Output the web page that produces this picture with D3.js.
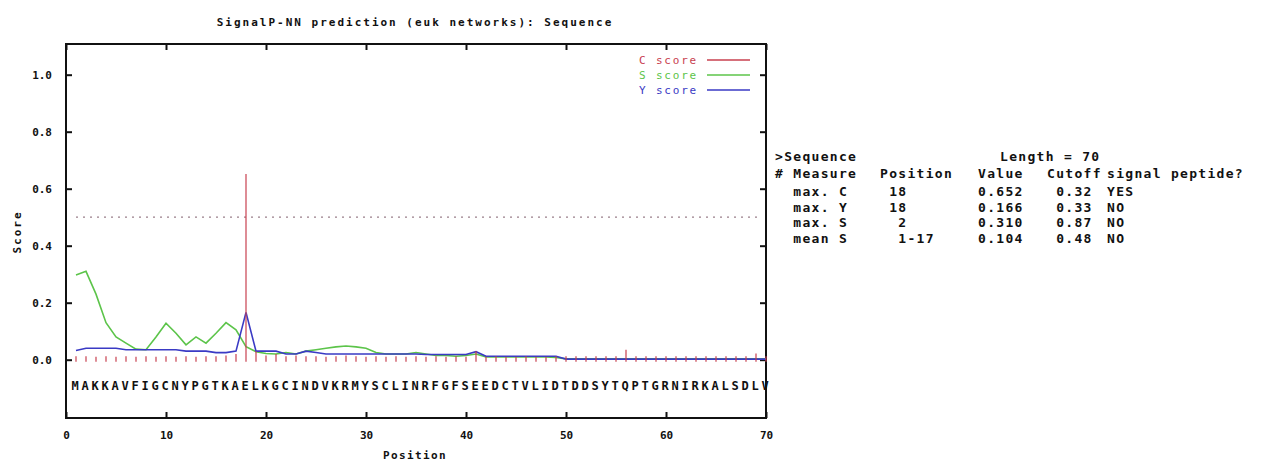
<!DOCTYPE html>
<html>
<head>
<meta charset="utf-8">
<script src="https://cdn.jsdelivr.net/npm/d3@7"></script>
<style>
  body { margin: 0; background: #fff; }
  text { font-family: "DejaVu Sans Mono", monospace; font-weight: bold; fill: #111; }
  .seq { font-size: 12px; }
  .tab { font-size: 13px; letter-spacing: 1.3px; }
</style>
</head>
<body>
<div class="chart"></div>
<script>
// SignalP-NN style score plot with the summary table on the right

// sequence, one letter per position
var sequence = "MAKKAVFIGCNYPGTKAELKGCINDVKRMYSCLINRFGFSEEDCTVLIDTDDSYTQPTGRNIRKALSDLV".split("");

// C score (impulses)
var cScore = [0.012, 0.012, 0.010, 0.012, 0.010, 0.012, 0.010, 0.012, 0.010, 0.012,
              0.010, 0.012, 0.010, 0.012, 0.012, 0.015, 0.020, 0.652, 0.030, 0.015,
              0.020, 0.012, 0.015, 0.012, 0.012, 0.010, 0.012, 0.015, 0.012, 0.010,
              0.012, 0.010, 0.012, 0.010, 0.012, 0.010, 0.012, 0.010, 0.012, 0.010,
              0.030, 0.010, 0.012, 0.010, 0.010, 0.012, 0.010, 0.010, 0.012, 0.012,
              0.012, 0.012, 0.012, 0.012, 0.012, 0.035, 0.012, 0.012, 0.012, 0.012,
              0.012, 0.012, 0.012, 0.012, 0.012, 0.012, 0.012, 0.012, 0.022, 0.012];

// S score
var sScore = [0.297, 0.310, 0.230, 0.130, 0.080, 0.058, 0.037, 0.035, 0.080, 0.128,
              0.093, 0.052, 0.080, 0.058, 0.093, 0.130, 0.105, 0.046, 0.028, 0.022,
              0.020, 0.025, 0.020, 0.030, 0.035, 0.040, 0.045, 0.048, 0.045, 0.040,
              0.025, 0.020, 0.020, 0.020, 0.025, 0.020, 0.015, 0.015, 0.012, 0.015,
              0.020, 0.010, 0.010, 0.010, 0.010, 0.010, 0.010, 0.010, 0.008, 0.003,
              0.003, 0.003, 0.003, 0.003, 0.003, 0.003, 0.003, 0.003, 0.003, 0.003,
              0.003, 0.003, 0.003, 0.003, 0.003, 0.003, 0.003, 0.003, 0.003, 0.003];

// Y score
var yScore = [0.032, 0.040, 0.040, 0.040, 0.040, 0.035, 0.035, 0.035, 0.035, 0.035,
              0.035, 0.030, 0.030, 0.030, 0.025, 0.025, 0.030, 0.166, 0.030, 0.030,
              0.030, 0.020, 0.020, 0.030, 0.025, 0.020, 0.020, 0.020, 0.020, 0.020,
              0.020, 0.020, 0.020, 0.020, 0.020, 0.018, 0.018, 0.018, 0.018, 0.018,
              0.028, 0.012, 0.012, 0.012, 0.012, 0.012, 0.012, 0.012, 0.012, 0.002,
              0.002, 0.002, 0.002, 0.002, 0.002, 0.002, 0.002, 0.002, 0.002, 0.002,
              0.002, 0.002, 0.002, 0.002, 0.002, 0.002, 0.002, 0.002, 0.002, 0.002];

var cutoff = 0.5;
var xTicks = [0, 10, 20, 30, 40, 50, 60, 70];
var yTicks = [0, 0.2, 0.4, 0.6, 0.8, 1.0];

// legend
var seriesNames = ["C score", "S score", "Y score"];
var seriesColors = ["#c8404f", "#5cc44a", "#3a3ac4"];

// table on the right
var tableHeader = ["# Measure", "Position", "Value", "Cutoff", "signal peptide?"];
var measures = ["max. C", "max. Y", "max. S", "mean S"];
var measurePos = ["18", "18", " 2", " 1-17"];
var measureValue = ["0.652", "0.166", "0.310", "0.104"];
var measureCutoff = ["0.32", "0.33", "0.87", "0.48"];
var measureAnswer = ["YES", "NO", "NO", "NO"];

var svgWidth = 1277;
var svgHeight = 462;

// plot frame
var frame = { left: 66, right: 766, top: 44, bottom: 418 };

var svg = d3.select(".chart")
    .append("svg")
    .attr("width", svgWidth)
    .attr("height", svgHeight);

var xScale = d3.scaleLinear().domain([0, 70]).range([frame.left, frame.right]);
var yScale = d3.scaleLinear().domain([0, 1]).range([359.7, 74.7]);

// axes, ticks point inwards
var leftAxis = d3.axisLeft(yScale).tickValues(yTicks).tickSize(-6).tickPadding(14)
    .tickFormat(d3.format(".1f"));
var rightAxis = d3.axisRight(yScale).tickValues(yTicks).tickSize(-6).tickFormat("");
var bottomAxis = d3.axisBottom(xScale).tickValues(xTicks).tickSize(-6).tickPadding(13);
var topAxis = d3.axisTop(xScale).tickValues(xTicks).tickSize(-6).tickFormat("");

function styleAxis(g) {
    g.select(".domain").remove();
    g.selectAll("line").attr("stroke", "#111").attr("stroke-width", 2);
    g.selectAll("text").style("font-family", "DejaVu Sans Mono, monospace")
        .style("font-weight", "bold").style("font-size", "11px").attr("fill", "#111");
}

svg.append("g").attr("transform", "translate(" + frame.left + ",0)").call(leftAxis).call(styleAxis);
svg.append("g").attr("transform", "translate(" + frame.right + ",0)").call(rightAxis).call(styleAxis);
svg.append("g").attr("transform", "translate(0," + frame.bottom + ")").call(bottomAxis).call(styleAxis);
svg.append("g").attr("transform", "translate(0," + frame.top + ")").call(topAxis).call(styleAxis);

svg.append("rect")
    .attr("x", frame.left).attr("y", frame.top)
    .attr("width", frame.right - frame.left).attr("height", frame.bottom - frame.top)
    .attr("fill", "none").attr("stroke", "#111").attr("stroke-width", 2);

// cutoff line
svg.append("line")
    .attr("x1", xScale(1)).attr("x2", xScale(69.6))
    .attr("y1", yScale(cutoff)).attr("y2", yScale(cutoff))
    .attr("stroke", "#9a7f8a").attr("stroke-width", 1.3)
    .attr("stroke-dasharray", "2,5");

var positions = sequence.map(function(d, i) { return i + 1; });

// score lines
var line = function(values) {
    return d3.line()
        .x(function(d) { return xScale(d); })
        .y(function(d, i) { return yScale(values[i]); })(positions);
};

svg.append("path")
    .attr("d", line(sScore))
    .attr("fill", "none").attr("stroke", seriesColors[1]).attr("stroke-width", 1.6);

svg.append("path")
    .attr("d", line(yScore))
    .attr("fill", "none").attr("stroke", seriesColors[2]).attr("stroke-width", 1.6);

// C score impulses
svg.selectAll(".cbar")
    .data(positions)
    .enter().append("line")
    .attr("class", "cbar")
    .attr("x1", function(d) { return xScale(d); })
    .attr("x2", function(d) { return xScale(d); })
    .attr("y1", yScale(0) + 2)
    .attr("y2", function(d, i) { return yScale(cScore[i]); })
    .attr("stroke", seriesColors[0]).attr("stroke-width", 1.2);

// sequence letters
svg.selectAll(".seq")
    .data(sequence)
    .enter().append("text")
    .attr("class", "seq")
    .attr("x", function(d, i) { return xScale(i + 1) - 1; })
    .attr("y", 390)
    .attr("text-anchor", "middle")
    .text(function(d) { return d; });

// legend
seriesNames.forEach(function(name, i) {
    var ly = 60 + i * 15;
    svg.append("text")
        .attr("x", 698).attr("y", ly + 4)
        .attr("text-anchor", "end")
        .style("font-size", "11px").style("font-weight", "normal")
        .style("letter-spacing", "1.8px")
        .style("fill", seriesColors[i])
        .text(name);
    svg.append("line")
        .attr("x1", 707).attr("x2", 750)
        .attr("y1", ly).attr("y2", ly)
        .attr("stroke", seriesColors[i]).attr("stroke-width", 1.6);
});

// title and axis labels
svg.append("text")
    .attr("x", 415).attr("y", 26)
    .attr("text-anchor", "middle")
    .style("font-size", "11px")
    .style("letter-spacing", "2px")
    .text("SignalP-NN prediction (euk networks): Sequence");

svg.append("text")
    .attr("x", 415).attr("y", 459)
    .attr("text-anchor", "middle")
    .style("font-size", "11px")
    .style("letter-spacing", "1.4px")
    .text("Position");

svg.append("text")
    .attr("transform", "translate(21,232) rotate(-90)")
    .attr("text-anchor", "middle")
    .style("font-size", "11px")
    .style("letter-spacing", "2px")
    .text("Score");

// summary table
var table = svg.append("g").attr("class", "tab");
var colX = [775, 880, 978, 1047, 1107];

table.append("text").attr("x", 775).attr("y", 161).text(">Sequence");
table.append("text").attr("x", 1000).attr("y", 161).text("Length = 70");

tableHeader.forEach(function(h, i) {
    table.append("text").attr("x", colX[i]).attr("y", 178).text(h);
});

measures.forEach(function(m, r) {
    var ry = 196 + r * 15.5;
    var cells = ["  " + m, " " + measurePos[r], measureValue[r], " " + measureCutoff[r], measureAnswer[r]];
    cells.forEach(function(c, i) {
        table.append("text").attr("x", colX[i]).attr("y", ry)
            .attr("xml:space", "preserve").style("white-space", "pre")
            .text(c);
    });
});
</script>
</body>
</html>
